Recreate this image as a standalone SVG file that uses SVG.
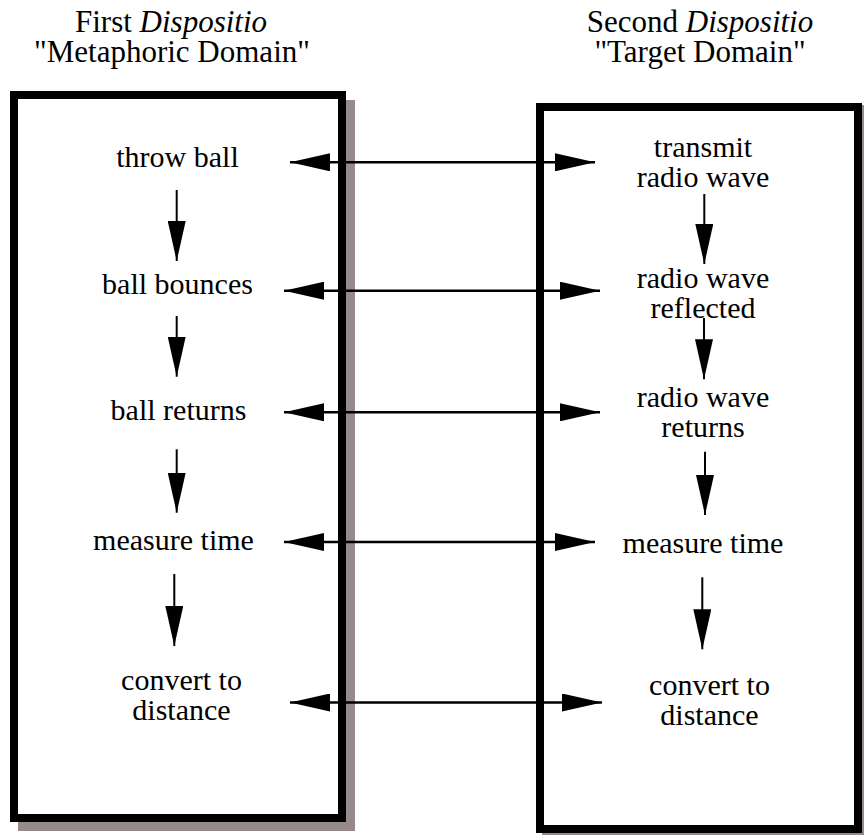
<svg xmlns="http://www.w3.org/2000/svg" width="864" height="835" viewBox="0 0 864 835">
<style>
text{font-family:"Liberation Serif","Times New Roman",serif;fill:#000;text-anchor:middle}
.t{font-size:31px}
.n{font-size:30px}
.shadow{fill:#968b8a}
.box{fill:#fff;stroke:#000;stroke-width:8}
.h{stroke:#000;stroke-width:2.5;fill:none;marker-start:url(#ah);marker-end:url(#ah)}
.v{stroke:#000;stroke-width:2;fill:none;marker-end:url(#ah)}
</style>
<defs>
<marker id="ah" markerUnits="userSpaceOnUse" viewBox="0 0 40 18" markerWidth="40" markerHeight="18" refX="40" refY="9" orient="auto-start-reverse">
<path d="M0,0 L40,9 L0,18 z" fill="#000"/>
</marker>
</defs>
<rect width="864" height="835" fill="#fff"/>
<g id="title-left">
<text class="t" x="171" y="32">First <tspan font-style="italic">Dispositio</tspan></text>
<text class="t" x="172" y="62">"Metaphoric Domain"</text>
</g>
<g id="title-right">
<text class="t" x="700" y="32">Second <tspan font-style="italic">Dispositio</tspan></text>
<text class="t" x="700" y="62">"Target Domain"</text>
</g>
<g id="box-left">
<rect class="shadow" x="18" y="100" width="337" height="731"/>
<rect class="box" x="14" y="95" width="328" height="723"/>
</g>
<g id="box-right">
<rect class="shadow" x="542" y="105" width="322" height="730"/>
<rect class="box" x="540" y="107" width="318" height="722"/>
</g>
<g id="l1"><text class="n" x="177.5" y="167">throw ball</text></g>
<g id="l2"><text class="n" x="177.5" y="294">ball bounces</text></g>
<g id="l3"><text class="n" x="178.5" y="420">ball returns</text></g>
<g id="l4"><text class="n" x="173.5" y="550">measure time</text></g>
<g id="l5"><text class="n" x="181.5" y="690">convert to</text><text class="n" x="181.5" y="720">distance</text></g>
<g id="r1"><text class="n" x="703" y="157">transmit</text><text class="n" x="703" y="187">radio wave</text></g>
<g id="r2"><text class="n" x="703" y="288">radio wave</text><text class="n" x="703" y="318">reflected</text></g>
<g id="r3"><text class="n" x="703" y="407">radio wave</text><text class="n" x="703" y="437">returns</text></g>
<g id="r4"><text class="n" x="703" y="553">measure time</text></g>
<g id="r5"><text class="n" x="709.5" y="695">convert to</text><text class="n" x="709.5" y="725">distance</text></g>
<g id="connectors">
<path class="h" d="M290,162.3 H595"/>
<path class="h" d="M284,290.7 H600"/>
<path class="h" d="M284,412.3 H600"/>
<path class="h" d="M284,542 H595"/>
<path class="h" d="M290,702.5 H602"/>
<path class="v" d="M176.7,190 V261"/>
<path class="v" d="M176.7,316 V376.7"/>
<path class="v" d="M176.7,449.3 V512.7"/>
<path class="v" d="M174.3,574 V646"/>
<path class="v" d="M704.3,194 V264"/>
<path class="v" d="M704,318 V379.3"/>
<path class="v" d="M705,451.7 V515"/>
<path class="v" d="M702.3,577.3 V649.3"/>
</g>
</svg>
